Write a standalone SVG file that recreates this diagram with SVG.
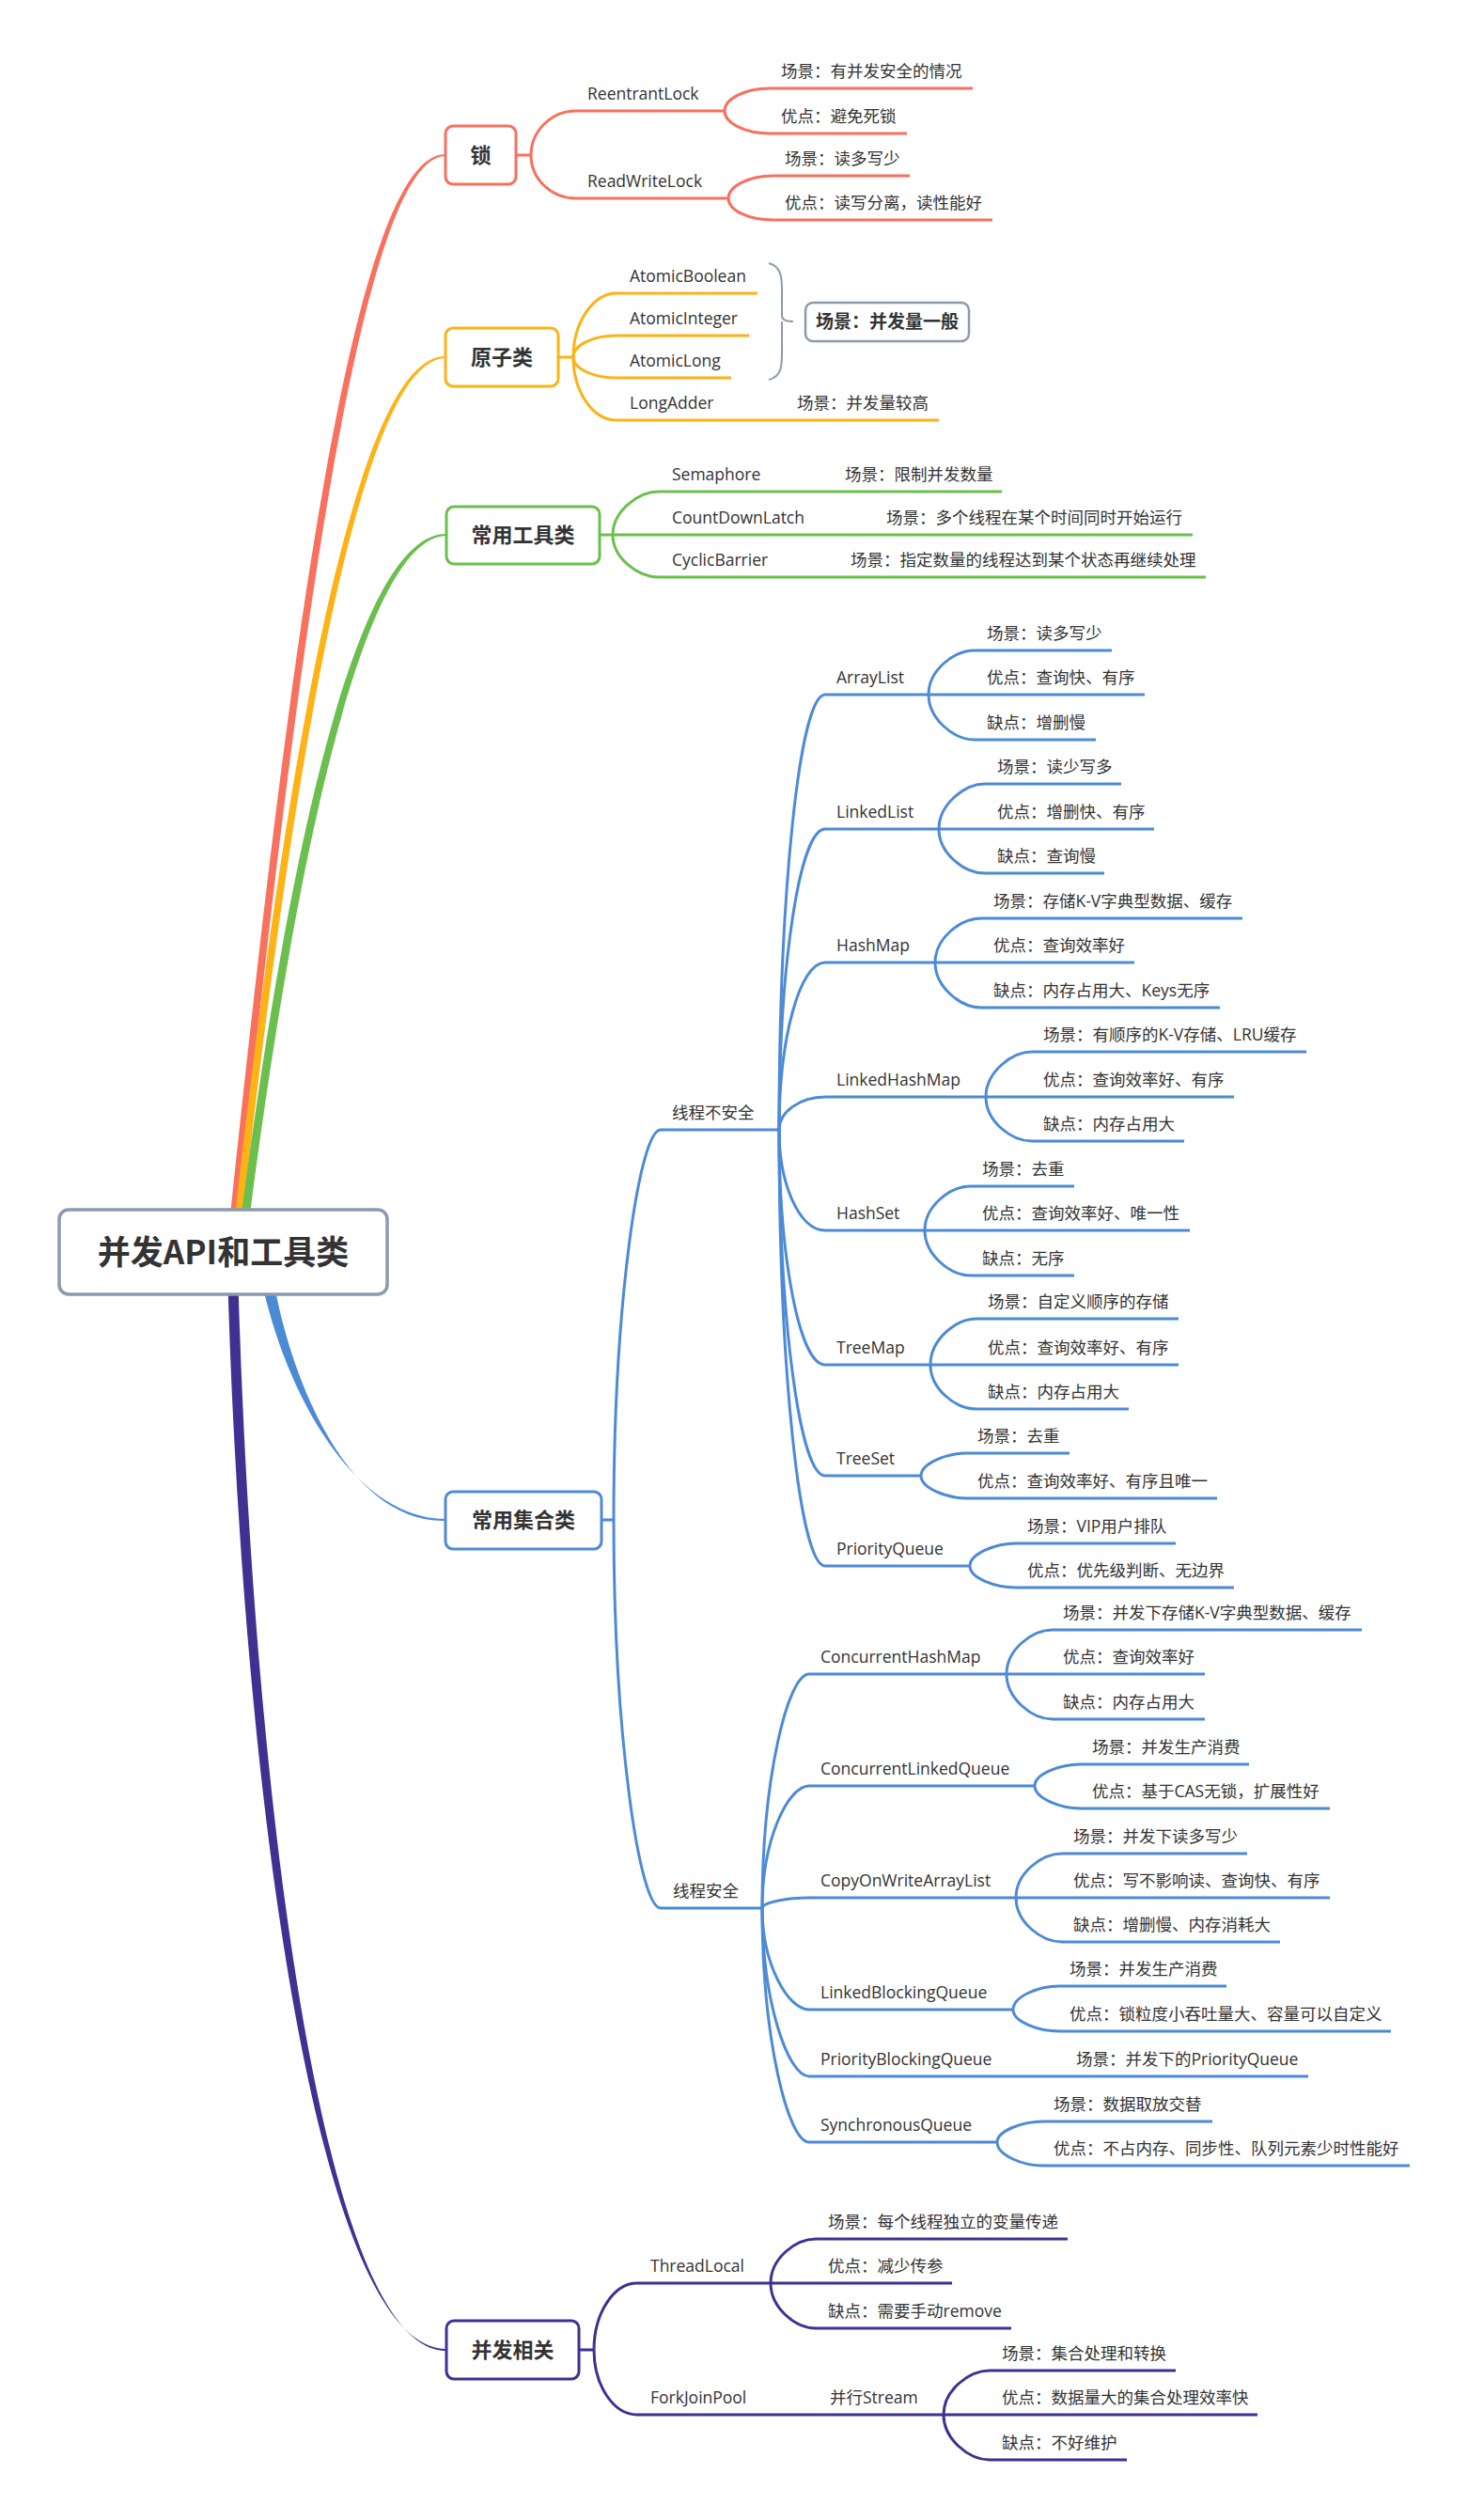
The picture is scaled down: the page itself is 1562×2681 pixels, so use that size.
<svg xmlns="http://www.w3.org/2000/svg" width="1562" height="2681" viewBox="0 0 1562 2681">
<style>
.t{font-family:"Open Sans","Noto Sans CJK SC",sans-serif;font-size:17.5px;fill:#333}
.bt{font-family:"Noto Sans CJK SC","Open Sans",sans-serif;font-weight:bold;font-size:22px;fill:#333;text-anchor:middle}
.c{fill:none;stroke-width:3;stroke-linecap:butt}
.r{stroke:#F8705E}.o{stroke:#FDB216}.g{stroke:#6BBF4E}.bl{stroke:#4D8AD6}.p{stroke:#3F3192}
.box{fill:#fff;stroke-width:3}
</style>
<rect width="1562" height="2681" fill="#fff"/>
<g id="connectors">
<!-- main tapered branches -->
<path d="M241,1330 C301,760 371,163 474,164 L474,166 C379,167 309,760 249,1330 Z" fill="#F8705E"/>
<path d="M246,1330 C302,820 377,378 474,379 L474,381 C383,382 310,820 254,1330 Z" fill="#FDB216"/>
<path d="M252,1330 C306,900 381,567 475,568 L475,570 C389,571 315,900 261,1330 Z" fill="#6BBF4E"/>
<path d="M276,1350 C296,1462 369,1616 474,1616 L474,1618 C367,1620 306,1460 289,1350 Z" fill="#4D8AD6"/>
<path d="M242,1350 C257,1900 336,2499 475,2499 L475,2501 C342,2502 268,1900 253,1350 Z" fill="#3F3192"/>
<!-- 锁 -->
<g class="c r">
<path d="M549,165 H565"/>
<path d="M565,165 C565,139 587,118 613,118 H771"/>
<path d="M565,165 C565,191 587,211 613,211 H775"/>
<path d="M771,118 C771,105 793,94 819,94 H1035"/>
<path d="M771,118 C771,131 793,142 819,142 H965"/>
<path d="M775,211 C775,198 797,187 823,187 H968"/>
<path d="M775,211 C775,224 797,234 823,234 H1056"/>
</g>
<!-- 原子类 -->
<g class="c o">
<path d="M594,380 H610"/>
<path d="M610,380 C610,343 631,312 656,312 H806"/>
<path d="M610,380 C610,367 631,357 656,357 H797"/>
<path d="M610,380 C610,392 631,402 656,402 H778"/>
<path d="M610,380 C610,417 631,447 656,447 H999"/>
</g>
<path d="M818,280 C834,284 832,300 832,320 L832,336 Q832,342 844,342 M832,342 Q832,348 832,364 C832,386 834,400 818,404" fill="none" stroke="#8D99AE" stroke-width="2"/>
<!-- 常用工具类 -->
<g class="c g">
<path d="M638,569 H652"/>
<path d="M652,569 C652,544 679,523 701,523 H1066"/>
<path d="M652,569 H1269"/>
<path d="M652,569 C652,594 679,614 701,614 H1283"/>
</g>
<!-- 常用集合类 -->
<g class="c bl">
<path d="M640,1617 H653"/>
<path d="M653,1617 C653,1389 680,1202 703,1202 H829"/>
<path d="M653,1617 C653,1844 680,2030 703,2030 H811"/>
<path d="M829,1202 C829,947 851,739 878,739 H988"/>
<path d="M829,1202 C829,1026 851,882 878,882 H999"/>
<path d="M829,1202 C829,1104 851,1024 878,1024 H995"/>
<path d="M829,1202 C829,1183 851,1167 878,1167 H1049"/>
<path d="M829,1202 C829,1261 851,1309 878,1309 H984"/>
<path d="M829,1202 C829,1340 851,1452 878,1452 H990"/>
<path d="M829,1202 C829,1404 851,1570 878,1570 H980"/>
<path d="M829,1202 C829,1457 851,1666 878,1666 H1032"/>
<path d="M988,739 C988,713 1015,692 1037,692 H1183"/>
<path d="M988,739 H1218"/>
<path d="M988,739 C988,765 1015,787 1037,787 H1166"/>
<path d="M999,882 C999,856 1026,834 1048,834 H1193"/>
<path d="M999,882 H1228"/>
<path d="M999,882 C999,908 1026,929 1048,929 H1175"/>
<path d="M995,1024 C995,998 1022,977 1044,977 H1322"/>
<path d="M995,1024 H1207"/>
<path d="M995,1024 C995,1050 1022,1072 1044,1072 H1298"/>
<path d="M1049,1167 C1049,1141 1076,1119 1098,1119 H1390"/>
<path d="M1049,1167 H1313"/>
<path d="M1049,1167 C1049,1193 1076,1214 1098,1214 H1260"/>
<path d="M984,1309 C984,1283 1011,1262 1033,1262 H1143"/>
<path d="M984,1309 H1266"/>
<path d="M984,1309 C984,1335 1011,1357 1033,1357 H1143"/>
<path d="M990,1452 C990,1425 1017,1403 1039,1403 H1254"/>
<path d="M990,1452 H1254"/>
<path d="M990,1452 C990,1478 1017,1499 1039,1499 H1201"/>
<path d="M980,1570 C980,1557 1007,1546 1029,1546 H1138"/>
<path d="M980,1570 C980,1583 1007,1594 1029,1594 H1295"/>
<path d="M1032,1666 C1032,1653 1059,1642 1081,1642 H1251"/>
<path d="M1032,1666 C1032,1679 1059,1689 1081,1689 H1313"/>
<path d="M811,2030 C811,1893 838,1781 861,1781 H1071"/>
<path d="M811,2030 C811,1958 838,1900 861,1900 H1101"/>
<path d="M811,2030 C811,2024 838,2019 861,2019 H1081"/>
<path d="M811,2030 C811,2089 838,2138 861,2138 H1078"/>
<path d="M811,2030 C811,2128 838,2209 861,2209 H1392"/>
<path d="M811,2030 C811,2167 838,2279 861,2279 H1061"/>
<path d="M1071,1781 C1071,1755 1098,1734 1120,1734 H1449"/>
<path d="M1071,1781 H1282"/>
<path d="M1071,1781 C1071,1807 1098,1829 1120,1829 H1282"/>
<path d="M1101,1900 C1101,1887 1128,1877 1150,1877 H1329"/>
<path d="M1101,1900 C1101,1913 1128,1924 1150,1924 H1415"/>
<path d="M1081,2019 C1081,1993 1108,1972 1130,1972 H1327"/>
<path d="M1081,2019 H1415"/>
<path d="M1081,2019 C1081,2045 1108,2066 1130,2066 H1362"/>
<path d="M1078,2138 C1078,2124 1105,2113 1127,2113 H1305"/>
<path d="M1078,2138 C1078,2151 1105,2161 1127,2161 H1480"/>
<path d="M1061,2279 C1061,2267 1088,2257 1110,2257 H1290"/>
<path d="M1061,2279 C1061,2293 1088,2304 1110,2304 H1500"/>
</g>
<!-- 并发相关 -->
<g class="c p">
<path d="M616,2500 H632"/>
<path d="M632,2500 C632,2461 653,2429 678,2429 H820"/>
<path d="M632,2500 C632,2538 653,2569 678,2569 H1004"/>
<path d="M820,2429 C820,2403 846,2382 868,2382 H1136"/>
<path d="M820,2429 H1013"/>
<path d="M820,2429 C820,2455 846,2477 868,2477 H1076"/>
<path d="M1004,2569 C1004,2543 1031,2522 1053,2522 H1251"/>
<path d="M1004,2569 H1338"/>
<path d="M1004,2569 C1004,2595 1031,2617 1053,2617 H1199"/>
</g>
</g>

<g id="root">
<rect x="63" y="1287" width="349" height="90" rx="10" fill="#fff" stroke="#8D99AE" stroke-width="3.5"/>
<text x="237.5" y="1345" class="bt" style="font-size:35px">并发API和工具类</text>
</g>

<g id="lock">
<rect class="box r" x="474" y="134" width="75" height="62" rx="8"/>
<text class="bt" x="511.5" y="173">锁</text>
</g>
<g id="lock-children">
<text class="t" x="625" y="106">ReentrantLock</text>
<text class="t" x="625" y="199">ReadWriteLock</text>
<text class="t" x="831" y="82">场景：有并发安全的情况</text>
<text class="t" x="831" y="130">优点：避免死锁</text>
<text class="t" x="835" y="175">场景：读多写少</text>
<text class="t" x="835" y="222">优点：读写分离，读性能好</text>
</g>

<g id="atomic">
<rect class="box o" x="474" y="349" width="120" height="62" rx="8"/>
<text class="bt" x="534" y="388">原子类</text>
</g>
<g id="atomic-children">
<text class="t" x="670" y="300">AtomicBoolean</text>
<text class="t" x="670" y="345">AtomicInteger</text>
<text class="t" x="670" y="390">AtomicLong</text>
<text class="t" x="670" y="435">LongAdder</text>
<text class="t" x="848" y="435">场景：并发量较高</text>
</g>
<g id="atomic-summary">
<rect x="857" y="322" width="174" height="41" rx="8" fill="#fff" stroke="#8D99AE" stroke-width="2.5"/>
<text class="bt" x="944" y="349" style="font-size:19px">场景：并发量一般</text>
</g>

<g id="tools">
<rect class="box g" x="475" y="539" width="163" height="61" rx="8"/>
<text class="bt" x="556.5" y="577">常用工具类</text>
</g>
<g id="tools-children">
<text class="t" x="715" y="511">Semaphore</text>
<text class="t" x="899" y="511">场景：限制并发数量</text>
<text class="t" x="715" y="557">CountDownLatch</text>
<text class="t" x="943" y="557">场景：多个线程在某个时间同时开始运行</text>
<text class="t" x="715" y="602">CyclicBarrier</text>
<text class="t" x="905" y="602">场景：指定数量的线程达到某个状态再继续处理</text>
</g>

<g id="collections">
<rect class="box bl" x="474" y="1587" width="166" height="61" rx="8"/>
<text class="bt" x="557" y="1625">常用集合类</text>
</g>
<g id="unsafe">
<text class="t" x="715" y="1190">线程不安全</text>
<text class="t" x="890" y="727">ArrayList</text>
<text class="t" x="1050" y="680">场景：读多写少</text>
<text class="t" x="1050" y="727">优点：查询快、有序</text>
<text class="t" x="1050" y="775">缺点：增删慢</text>
<text class="t" x="890" y="870">LinkedList</text>
<text class="t" x="1061" y="822">场景：读少写多</text>
<text class="t" x="1061" y="870">优点：增删快、有序</text>
<text class="t" x="1061" y="917">缺点：查询慢</text>
<text class="t" x="890" y="1012">HashMap</text>
<text class="t" x="1057" y="965">场景：存储K-V字典型数据、缓存</text>
<text class="t" x="1057" y="1012">优点：查询效率好</text>
<text class="t" x="1057" y="1060">缺点：内存占用大、Keys无序</text>
<text class="t" x="890" y="1155">LinkedHashMap</text>
<text class="t" x="1110" y="1107">场景：有顺序的K-V存储、LRU缓存</text>
<text class="t" x="1110" y="1155">优点：查询效率好、有序</text>
<text class="t" x="1110" y="1202">缺点：内存占用大</text>
<text class="t" x="890" y="1297">HashSet</text>
<text class="t" x="1045" y="1250">场景：去重</text>
<text class="t" x="1045" y="1297">优点：查询效率好、唯一性</text>
<text class="t" x="1045" y="1345">缺点：无序</text>
<text class="t" x="890" y="1440">TreeMap</text>
<text class="t" x="1051" y="1391">场景：自定义顺序的存储</text>
<text class="t" x="1051" y="1440">优点：查询效率好、有序</text>
<text class="t" x="1051" y="1487">缺点：内存占用大</text>
<text class="t" x="890" y="1558">TreeSet</text>
<text class="t" x="1040" y="1534">场景：去重</text>
<text class="t" x="1040" y="1582">优点：查询效率好、有序且唯一</text>
<text class="t" x="890" y="1654">PriorityQueue</text>
<text class="t" x="1093" y="1630">场景：VIP用户排队</text>
<text class="t" x="1093" y="1677">优点：优先级判断、无边界</text>
</g>
<g id="safe">
<text class="t" x="716" y="2018">线程安全</text>
<text class="t" x="873" y="1769">ConcurrentHashMap</text>
<text class="t" x="1131" y="1722">场景：并发下存储K-V字典型数据、缓存</text>
<text class="t" x="1131" y="1769">优点：查询效率好</text>
<text class="t" x="1131" y="1817">缺点：内存占用大</text>
<text class="t" x="873" y="1888">ConcurrentLinkedQueue</text>
<text class="t" x="1162" y="1865">场景：并发生产消费</text>
<text class="t" x="1162" y="1912">优点：基于CAS无锁，扩展性好</text>
<text class="t" x="873" y="2007">CopyOnWriteArrayList</text>
<text class="t" x="1142" y="1960">场景：并发下读多写少</text>
<text class="t" x="1142" y="2007">优点：写不影响读、查询快、有序</text>
<text class="t" x="1142" y="2054">缺点：增删慢、内存消耗大</text>
<text class="t" x="873" y="2126">LinkedBlockingQueue</text>
<text class="t" x="1138" y="2101">场景：并发生产消费</text>
<text class="t" x="1138" y="2149">优点：锁粒度小吞吐量大、容量可以自定义</text>
<text class="t" x="873" y="2197">PriorityBlockingQueue</text>
<text class="t" x="1145" y="2197">场景：并发下的PriorityQueue</text>
<text class="t" x="873" y="2267">SynchronousQueue</text>
<text class="t" x="1121" y="2245">场景：数据取放交替</text>
<text class="t" x="1121" y="2292">优点：不占内存、同步性、队列元素少时性能好</text>
</g>

<g id="concurrency">
<rect class="box p" x="475" y="2469" width="141" height="62" rx="8"/>
<text class="bt" x="545.5" y="2508">并发相关</text>
</g>
<g id="concurrency-children">
<text class="t" x="692" y="2417">ThreadLocal</text>
<text class="t" x="881" y="2370">场景：每个线程独立的变量传递</text>
<text class="t" x="881" y="2417">优点：减少传参</text>
<text class="t" x="881" y="2465">缺点：需要手动remove</text>
<text class="t" x="692" y="2557">ForkJoinPool</text>
<text class="t" x="883" y="2557">并行Stream</text>
<text class="t" x="1066" y="2510">场景：集合处理和转换</text>
<text class="t" x="1066" y="2557">优点：数据量大的集合处理效率快</text>
<text class="t" x="1066" y="2605">缺点：不好维护</text>
</g>
</svg>
